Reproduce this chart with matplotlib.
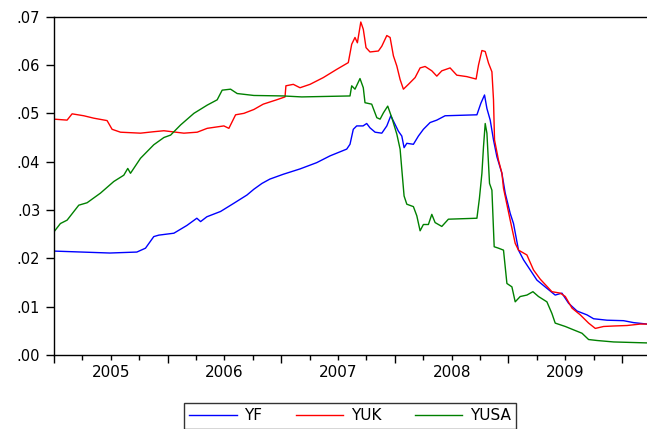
import matplotlib
matplotlib.use("Agg")
import matplotlib.pyplot as plt
from matplotlib.ticker import FuncFormatter, FixedLocator
import matplotlib.transforms as mtransforms

# Series (time in fractional years, rates as decimals)
yf_t = [2005.000, 2005.491, 2005.729, 2005.805, 2005.878, 2005.922, 2006.055, 2006.169,
        2006.257, 2006.290, 2006.345, 2006.466, 2006.583, 2006.698, 2006.759, 2006.830,
        2006.900, 2007.018, 2007.165, 2007.312, 2007.429, 2007.576, 2007.605, 2007.634,
        2007.664, 2007.720, 2007.752, 2007.781, 2007.826, 2007.885, 2007.929, 2007.964,
        2008.002, 2008.031, 2008.061, 2008.081, 2008.105, 2008.163, 2008.207, 2008.251,
        2008.310, 2008.369, 2008.442, 2008.722, 2008.757, 2008.789, 2008.810, 2008.839,
        2008.868, 2008.898, 2008.942, 2008.971, 2009.015, 2009.044, 2009.088, 2009.132,
        2009.191, 2009.250, 2009.338, 2009.411, 2009.470, 2009.529, 2009.603, 2009.691,
        2009.749, 2009.867, 2010.013, 2010.101, 2010.219]
yf = [0.0215, 0.0211, 0.0213, 0.0221, 0.0245, 0.0248, 0.0252, 0.0268,
      0.0283, 0.0276, 0.0286, 0.0297, 0.0314, 0.0331, 0.0343, 0.0355,
      0.0364, 0.0374, 0.0385, 0.0398, 0.0412, 0.0426, 0.0436, 0.0467,
      0.0474, 0.0474, 0.0479, 0.0470, 0.0461, 0.0459, 0.0474, 0.0495,
      0.0477, 0.0463, 0.0453, 0.0429, 0.0438, 0.0436, 0.0453, 0.0467,
      0.0481, 0.0486, 0.0495, 0.0497, 0.0521, 0.0538, 0.0510, 0.0486,
      0.0445, 0.0410, 0.0376, 0.0335, 0.0293, 0.0272, 0.0217, 0.0197,
      0.0176, 0.0155, 0.0138, 0.0124, 0.0128, 0.0107, 0.0091, 0.0083,
      0.0075, 0.0072, 0.0071, 0.0067, 0.0064]

yuk_t = [2005.000, 2005.115, 2005.159, 2005.262, 2005.350, 2005.467, 2005.511, 2005.585,
         2005.761, 2005.878, 2005.967, 2006.143, 2006.260, 2006.348, 2006.495, 2006.539,
         2006.598, 2006.671, 2006.759, 2006.841, 2006.959, 2007.033, 2007.041, 2007.106,
         2007.165, 2007.253, 2007.370, 2007.488, 2007.590, 2007.620, 2007.649, 2007.670,
         2007.700, 2007.722, 2007.746, 2007.781, 2007.855, 2007.885, 2007.929, 2007.958,
         2007.987, 2008.017, 2008.046, 2008.075, 2008.119, 2008.178, 2008.222, 2008.266,
         2008.325, 2008.369, 2008.413, 2008.486, 2008.545, 2008.633, 2008.715, 2008.736,
         2008.766, 2008.795, 2008.824, 2008.854, 2008.868, 2008.877, 2008.912, 2008.942,
         2008.956, 2009.015, 2009.059, 2009.088, 2009.162, 2009.220, 2009.279, 2009.382,
         2009.456, 2009.500, 2009.559, 2009.632, 2009.705, 2009.764, 2009.837, 2009.925,
         2010.043, 2010.160, 2010.219]
yuk = [0.0488, 0.0486, 0.0499, 0.0495, 0.0490, 0.0485, 0.0467, 0.0461,
       0.0459, 0.0462, 0.0464, 0.0459, 0.0461, 0.0469, 0.0474, 0.0469,
       0.0497, 0.0500, 0.0508, 0.0519, 0.0528, 0.0534, 0.0557, 0.0560,
       0.0553, 0.0560, 0.0574, 0.0591, 0.0605, 0.0643, 0.0657, 0.0646,
       0.0689, 0.0674, 0.0636, 0.0627, 0.0629, 0.0639, 0.0661, 0.0657,
       0.0619, 0.0598, 0.0570, 0.0550, 0.0560, 0.0574, 0.0594, 0.0597,
       0.0588, 0.0577, 0.0588, 0.0594, 0.0579, 0.0576, 0.0571, 0.0600,
       0.0630, 0.0628, 0.0604, 0.0586, 0.0528, 0.0445, 0.0403, 0.0376,
       0.0345, 0.0279, 0.0231, 0.0217, 0.0207, 0.0176, 0.0157, 0.0131,
       0.0128, 0.0121, 0.0097, 0.0083, 0.0066, 0.0055, 0.0059, 0.0060,
       0.0061, 0.0064, 0.0064]

yusa_t = [2005.000, 2005.056, 2005.115, 2005.218, 2005.291, 2005.409, 2005.526, 2005.614,
          2005.649, 2005.673, 2005.761, 2005.878, 2005.967, 2006.026, 2006.114, 2006.231,
          2006.348, 2006.436, 2006.480, 2006.554, 2006.612, 2006.759, 2007.018, 2007.180,
          2007.605, 2007.620, 2007.649, 2007.693, 2007.722, 2007.737, 2007.796, 2007.841,
          2007.870, 2007.899, 2007.937, 2007.973, 2008.017, 2008.046, 2008.061, 2008.081,
          2008.105, 2008.163, 2008.193, 2008.222, 2008.251, 2008.295, 2008.325, 2008.354,
          2008.413, 2008.471, 2008.722, 2008.744, 2008.766, 2008.780, 2008.795, 2008.810,
          2008.833, 2008.854, 2008.874, 2008.912, 2008.956, 2008.986, 2009.030, 2009.059,
          2009.103, 2009.162, 2009.215, 2009.264, 2009.338, 2009.382, 2009.411, 2009.500,
          2009.573, 2009.647, 2009.705, 2009.779, 2009.925, 2010.219]
yusa = [0.0255, 0.0272, 0.0279, 0.0310, 0.0315, 0.0335, 0.0359, 0.0372,
        0.0386, 0.0376, 0.0407, 0.0435, 0.0450, 0.0455, 0.0476, 0.0500,
        0.0517, 0.0528, 0.0548, 0.0550, 0.0541, 0.0537, 0.0536, 0.0534,
        0.0536, 0.0557, 0.0550, 0.0572, 0.0553, 0.0522, 0.0519, 0.0491,
        0.0488, 0.0501, 0.0515, 0.0491, 0.0457, 0.0426, 0.0384, 0.0329,
        0.0312, 0.0307, 0.0288, 0.0257, 0.0270, 0.0270, 0.0291, 0.0274,
        0.0266, 0.0281, 0.0283, 0.0324, 0.0376, 0.0431, 0.0479, 0.0459,
        0.0355, 0.0341, 0.0224, 0.0221, 0.0217, 0.0148, 0.0141, 0.0110,
        0.0121, 0.0124, 0.0131, 0.0121, 0.0110, 0.0086, 0.0066, 0.0059,
        0.0052, 0.0045, 0.0032, 0.0030, 0.0027, 0.0025]

years = [2005, 2006, 2007, 2008, 2009]

plt.rcParams['font.family'] = 'DejaVu Sans'

fig = plt.figure(figsize=(6.47, 4.29), dpi=100)
ax = fig.add_axes([0.0835, 0.1725, 0.9165, 0.7886])

l1, = ax.plot(yf_t, yf, color='#0000ff', lw=1.0, label='YF')
l2, = ax.plot(yuk_t, yuk, color='#ff0000', lw=1.0, label='YUK')
l3, = ax.plot(yusa_t, yusa, color='#008000', lw=1.0, label='YUSA')

ax.set_xlim(2005.0, 2010.219)
ax.set_ylim(0, 0.07)

ax.spines['right'].set_visible(False)
for s in ['left', 'bottom', 'top']:
    ax.spines[s].set_linewidth(1.0)
    ax.spines[s].set_color('black')

# y axis
ax.set_yticks([0.0, 0.01, 0.02, 0.03, 0.04, 0.05, 0.06, 0.07])
ax.yaxis.set_major_formatter(FuncFormatter(lambda v, p: f'{v:.2f}'[1:]))
ax.tick_params(axis='y', direction='out', length=6, width=1, pad=4, labelsize=10.5)

# x axis: long ticks at year starts, short ticks at quarters, labels mid-year
ax.xaxis.set_major_locator(FixedLocator(years + [2010]))
ax.xaxis.set_minor_locator(FixedLocator([y + q for y in years + [2010] for q in (0.25, 0.5, 0.75)]))
ax.set_xticklabels([])
ax.tick_params(axis='x', which='major', direction='out', length=6, width=1)
ax.tick_params(axis='x', which='minor', direction='out', length=3.5, width=1)

trans = mtransforms.blended_transform_factory(ax.transData, ax.transAxes)
for y in years:
    ax.text(y + 0.5, -0.052, str(y), transform=trans, ha='center', va='center', fontsize=11)

leg = fig.legend(handles=[l1, l2, l3], loc='center', bbox_to_anchor=(350 / 647, 1 - 416 / 429),
                 ncol=3, fontsize=11, frameon=True, fancybox=False, edgecolor='black',
                 handlelength=3.1, handletextpad=0.5, columnspacing=2.2, borderpad=0.35,
                 borderaxespad=0)
leg.get_frame().set_linewidth(1.0)

fig.savefig('out.png', dpi=100)
